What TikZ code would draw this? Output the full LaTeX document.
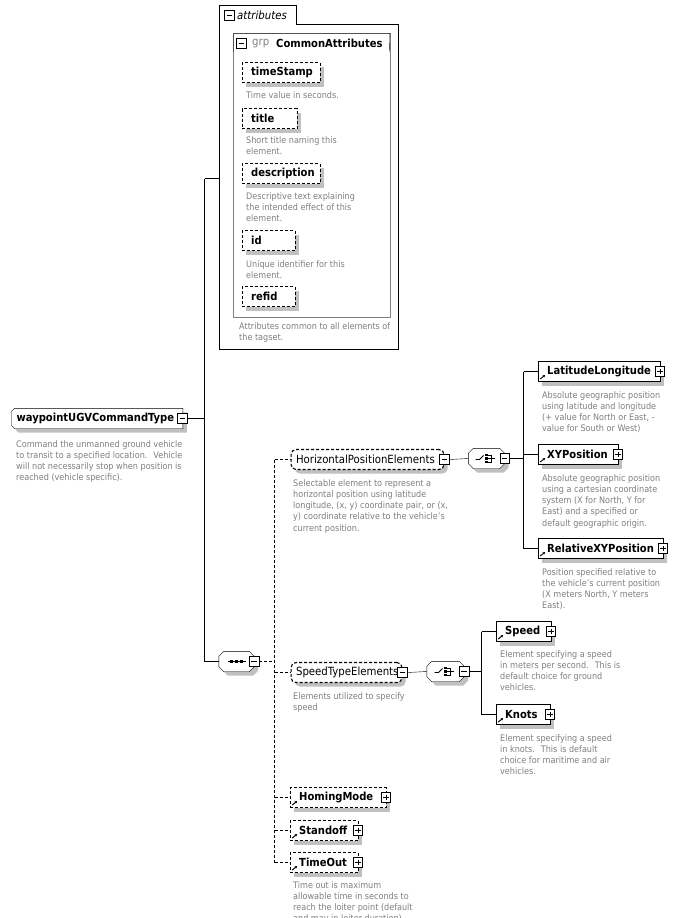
\documentclass[tikz,border=0pt]{standalone}
\usepackage{fontspec}
\setmainfont{DejaVu Sans Condensed}
\usetikzlibrary{arrows.meta}
\pgfdeclarelayer{bg}
\pgfsetlayers{bg,main}
\definecolor{desccol}{RGB}{128,128,128}
\definecolor{shadcol}{RGB}{192,192,192}
\definecolor{grpline}{RGB}{128,128,128}
\newcommand\nmfont{\fontsize{11.3}{13}\selectfont}
\newcommand\bnmfont{\fontsize{11.1}{13}\selectfont\bfseries}
\newcommand\dsfont{\fontsize{9.0}{11.3}\selectfont}
\newcommand\octpath[1]{([xshift=5pt]#1.north west) -- ([xshift=-5pt]#1.north east) -- ([yshift=-5pt]#1.north east) -- ([yshift=5pt]#1.south east) -- ([xshift=-5pt]#1.south east) -- ([xshift=5pt]#1.south west) -- ([yshift=5pt]#1.south west) -- ([yshift=-5pt]#1.north west) -- cycle}
\newcommand\rtpath[1]{([xshift=3pt]#1.north west) -- (#1.north east) -- (#1.south east) -- ([xshift=3pt]#1.south west) -- ([yshift=3pt]#1.south west) -- ([yshift=-3pt]#1.north west) -- cycle}
\newcommand\octbox[1]{%
  \begin{pgfonlayer}{bg}
  \fill[shadcol, transform canvas={shift={(4pt,-4pt)}}] \octpath{#1};
  \fill[white] \octpath{#1};
  \end{pgfonlayer}
  \draw \octpath{#1};}
\newcommand\rtbox[1]{%
  \begin{pgfonlayer}{bg}
  \fill[shadcol, transform canvas={shift={(4pt,-4pt)}}] \rtpath{#1};
  \fill[white] \rtpath{#1};
  \end{pgfonlayer}
  \draw \rtpath{#1};}
% #1 main style, #2 shadow style, #3 name, #4 x, #5 y, #6 width, #7 inset, #8 text
\newcommand\bx[8]{%
  \node[#2, minimum width=#6pt] (#3s) at (#4+4,#5-4) {};
  \node[#1, minimum width=#6pt] (#3) at (#4,#5) {\makebox[#6pt][l]{\hspace*{#7pt}#8}};}
\newcommand\chsym[1]{%
  \draw[line width=0.9pt] ([shift={(-11,-1)}]#1.center) -- ([shift={(-7,-1)}]#1.center) -- ([shift={(-3,3)}]#1.center);
  \foreach \dy in {3.5,0,-3.5} \fill ([shift={(-1.2,\dy+1.3)}]#1.center) rectangle ([shift={(1.3,\dy-1.3)}]#1.center);
  \draw[line width=0.9pt] ([shift={(1.3,3.5)}]#1.center) -- ([shift={(4.5,3.5)}]#1.center) -- ([shift={(4.5,-3.5)}]#1.center) -- ([shift={(1.3,-3.5)}]#1.center);
  \draw[line width=0.9pt] ([shift={(1.3,0)}]#1.center) -- ([shift={(8,0)}]#1.center);
}
\newcommand\sqsym[1]{%
  \draw[line width=0.9pt] ([shift={(-9,0)}]#1.center) -- ([shift={(9,0)}]#1.center);
  \foreach \dx in {-5,0,5} \fill ([shift={(\dx-1.6,1.6)}]#1.center) rectangle ([shift={(\dx+1.6,-1.6)}]#1.center);
}
\begin{document}
\begin{tikzpicture}[x=1pt,y=1pt,line width=1pt,
  dsh/.style={dash pattern=on 3pt off 2pt},
  pm/.style={draw, solid, fill=white, line width=0.8pt, minimum size=9.5pt, inner sep=0pt},
  plusb/.style={pm, path picture={\draw[solid, line width=0.8pt] ([xshift=2pt]path picture bounding box.west) -- ([xshift=-2pt]path picture bounding box.east) ([yshift=-2pt]path picture bounding box.north) -- ([yshift=2pt]path picture bounding box.south);}},
  minusb/.style={pm, path picture={\draw[solid, line width=0.8pt] ([xshift=2pt]path picture bounding box.west) -- ([xshift=-2pt]path picture bounding box.east);}},
  shsq/.style={fill=shadcol, anchor=west, minimum height=20pt, inner sep=0pt},
  shrd/.style={shsq, rounded corners=5pt},
  attrst/.style={draw=black, dsh, fill=white, anchor=west, minimum height=20pt, inner sep=0pt, font=\bnmfont},
  elst/.style={attrst, solid, path picture={\draw[solid, line width=0.9pt, -{Stealth[length=2.6pt,width=2.6pt]}] ([shift={(2.5pt,2.5pt)}]path picture bounding box.south west) -- ++(5pt,4pt);}},
  delst/.style={elst, dsh},
  grst/.style={attrst, draw=black, line width=1.1pt, rounded corners=5pt, font=\nmfont},
  blank/.style={inner sep=0pt, minimum height=20pt},
  desc/.style={anchor=north west, inner sep=0pt, align=left, text=desccol, font=\dsfont},
]
\useasboundingbox (0,0) rectangle (684,-918);
\begin{pgfonlayer}{bg}
\fill[white] (0,0) rectangle (684,-918);
\end{pgfonlayer}

% ---------- attributes container ----------
\node[anchor=north west, minimum width=178pt, minimum height=324pt, inner sep=0pt] (attrbox) at (219.5,-24.5) {};
\draw (attrbox.south west) -- (219.5,-5.5) -- (296.5,-5.5) -- (296.5,-24.5) -- (attrbox.north east) -- (attrbox.south east) -- cycle;
\node[minusb] (attrm) at (229.5,-15.5) {};
\node[anchor=west, inner sep=0pt, font=\nmfont\itshape] (attrl) at (237,-15.5) {attributes};

\node[anchor=north west, minimum width=156pt, minimum height=283pt, inner sep=0pt] (grpbox) at (233.5,-33.5) {};
\draw[grpline] (grpbox.north west) rectangle (grpbox.south east);
\draw (233.5,-52) -- (grpbox.north west) -- (grpbox.north east) -- (389.5,-52);
\node[minusb] (grpm) at (241.5,-43.5) {};
\node[anchor=west, inner sep=0pt, font=\nmfont, text=desccol] (grpl) at (252,-43.5) {grp};
\node[anchor=west, inner sep=0pt, font=\bnmfont] (grpn) at (276,-43.5) {CommonAttributes};

\bx{attrst}{shsq}{ts}{241.5}{-72.5}{78}{9.5}{timeStamp}
\node[desc] (tsd) at (246,-91) {Time value in seconds.};
\bx{attrst}{shsq}{ti}{241.5}{-118.5}{55}{9.5}{title}
\node[desc] (tid) at (246,-136) {Short title naming this\\element.};
\bx{attrst}{shsq}{de}{241.5}{-173.5}{78}{9.5}{description}
\node[desc] (ded) at (246,-192) {Descriptive text explaining\\the intended effect of this\\element.};
\bx{attrst}{shsq}{id}{241.5}{-240.5}{53}{9.5}{id}
\node[desc] (idd) at (246,-260) {Unique identifier for this\\element.};
\bx{attrst}{shsq}{rf}{241.5}{-296.5}{53}{9.5}{refid}
\node[desc] (attrd) at (239,-322) {Attributes common to all elements of\\the tagset.};

% ---------- root ----------
\node[blank, anchor=west, font=\bnmfont] (root) at (11.5,-418.5) {\makebox[171pt][l]{\hspace*{5pt}waypointUGVCommandType}};
\rtbox{root}
\node[minusb] (rootm) at (182.5,-418.5) {};
\node[desc] (rootd) at (16,-440) {Command the unmanned ground vehicle\\to transit to a specified location.~ Vehicle\\will not necessarily stop when position is\\reached (vehicle specific).};

% ---------- sequence ----------
\node[blank, minimum width=35pt] (seq) at (236.5,-661.5) {};
\octbox{seq}
\sqsym{seq}
\node[minusb] (seqm) at (seq.east) {};

% ---------- HorizontalPositionElements ----------
\bx{grst}{shrd}{hpe}{290.5}{-459.5}{153}{5}{HorizontalPositionElements}
\node[minusb] (hpem) at (hpe.east) {};
\node[desc] (hped) at (293,-479) {Selectable element to represent a\\horizontal position using latitude\\longitude, (x, y) coordinate pair, or (x,\\y) coordinate relative to the vehicle's\\current position.};
\node[blank, minimum width=36pt] (ch1) at (486.5,-458.5) {};
\octbox{ch1}
\chsym{ch1}
\node[minusb] (ch1m) at (ch1.east) {};

\bx{elst}{shsq}{lat}{537.5}{-371.5}{122}{9.5}{LatitudeLongitude}
\node[plusb] (latp) at (lat.east) {};
\node[desc] (latd) at (542,-391) {Absolute geographic position\\using latitude and longitude\\(+ value for North or East, -\\value for South or West)};
\bx{elst}{shsq}{xy}{537.5}{-454.5}{80}{9.5}{XYPosition}
\node[plusb] (xyp) at (xy.east) {};
\node[desc] (xyd) at (542,-474) {Absolute geographic position\\using a cartesian coordinate\\system (X for North, Y for\\East) and a specified or\\default geographic origin.};
\bx{elst}{shsq}{rel}{537.5}{-548.5}{125}{9.5}{RelativeXYPosition}
\node[plusb] (relp) at (rel.east) {};
\node[desc] (reld) at (542,-568) {Position specified relative to\\the vehicle's current position\\(X meters North, Y meters\\East).};

% ---------- SpeedTypeElements ----------
\bx{grst}{shrd}{ste}{290.5}{-672.5}{111}{5}{SpeedTypeElements}
\node[minusb] (stem) at (ste.east) {};
\node[desc] (sted) at (293,-692) {Elements utilized to specify\\speed};
\node[blank, minimum width=37pt] (ch2) at (445.5,-671.5) {};
\octbox{ch2}
\chsym{ch2}
\node[minusb] (ch2m) at (ch2.east) {};

\bx{elst}{shsq}{spd}{495.5}{-631.5}{55}{9.5}{Speed}
\node[plusb] (spdp) at (spd.east) {};
\node[desc] (spdd) at (500,-650) {Element specifying a speed\\in meters per second.~ This is\\default choice for ground\\vehicles.};
\bx{elst}{shsq}{kn}{495.5}{-714.5}{54}{9.5}{Knots}
\node[plusb] (knp) at (kn.east) {};
\node[desc] (knd) at (500,-734) {Element specifying a speed\\in knots.~ This is default\\choice for maritime and air\\vehicles.};

% ---------- optional elements ----------
\bx{delst}{shsq}{hm}{289.5}{-797.5}{96}{9.5}{HomingMode}
\node[plusb] (hmp) at (hm.east) {};
\bx{delst}{shsq}{so}{289.5}{-830.5}{68}{9.5}{Standoff}
\node[plusb] (sop) at (so.east) {};
\bx{delst}{shsq}{to}{289.5}{-862.5}{68}{9.5}{TimeOut}
\node[plusb] (top) at (to.east) {};
\node[desc] (tod) at (293,-881) {Time out is maximum\\allowable time in seconds to\\reach the loiter point (default\\and may in loiter duration)};

% ---------- connectors ----------
\coordinate (v1t) at (204.5,-178.5);
\coordinate (v1b) at (204.5,-661.5);
\draw (rootm.east) -- (rootm.east -| v1t);
\draw (v1t) -- (v1b);
\draw (v1t) -- (v1t -| attrbox.west);
\draw (v1b) -- (seq.west);

\coordinate (v2t) at (274.5,-459.5);
\coordinate (v2b) at (274.5,-862.5);
\draw[dsh] (seqm.east) -- (seqm.east -| v2t);
\draw[dsh] (v2t) -- (v2b);
\draw[dsh] (v2t) -- (hpe.west);
\draw[dsh] (ste.west -| v2t) -- (ste.west);
\draw[dsh] (hm.west -| v2t) -- (hm.west);
\draw[dsh] (so.west -| v2t) -- (so.west);
\draw[dsh] (v2b) -- (to.west);

\coordinate (v3t) at (523.5,-371.5);
\coordinate (v3b) at (523.5,-548.5);
\draw (hpem.east) -- (ch1.west);
\draw (ch1m.east) -- (ch1m.east -| v3t);
\draw (v3t) -- (v3b);
\draw (v3t) -- (lat.west);
\draw (xy.west -| v3t) -- (xy.west);
\draw (v3b) -- (rel.west);

\coordinate (v4t) at (481.5,-631.5);
\coordinate (v4b) at (481.5,-714.5);
\draw (stem.east) -- (ch2.west);
\draw (ch2m.east) -- (ch2m.east -| v4t);
\draw (v4t) -- (v4b);
\draw (v4t) -- (spd.west);
\draw (v4b) -- (kn.west);
\end{tikzpicture}
\end{document}
